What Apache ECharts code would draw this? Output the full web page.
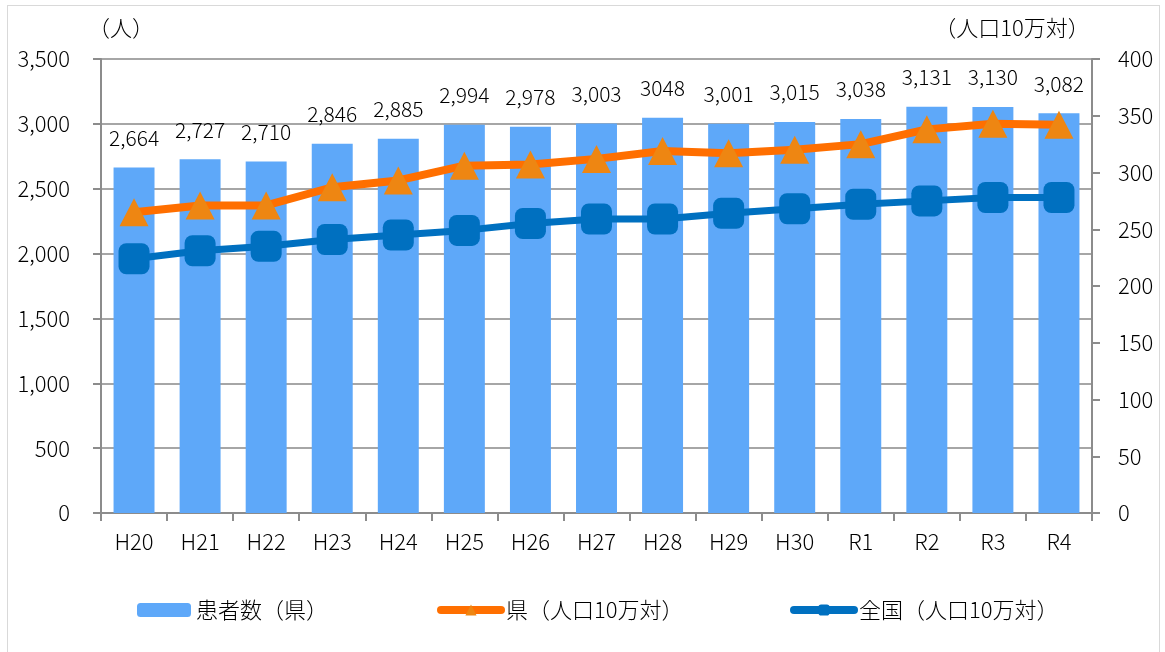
<!DOCTYPE html>
<html><head><meta charset="utf-8">
<script src="https://cdn.jsdelivr.net/npm/echarts@6/dist/echarts.min.js"></script>
<style>html,body{margin:0;padding:0;background:#fff}
#frame{position:absolute;left:7px;top:5px;width:1153px;height:660px;border:1px solid #d9d9d9;box-sizing:border-box}
#c{position:absolute;left:0;top:0;width:1165px;height:652px}</style>
</head><body><div id="frame"></div><div id="c"></div>
<script>
const categories = ['H20','H21','H22','H23','H24','H25','H26','H27','H28','H29','H30','R1','R2','R3','R4'];
const patients = [2664,2727,2710,2846,2885,2994,2978,3003,3048,3001,3015,3038,3131,3130,3082];
const patientLabels = ['2,664','2,727','2,710','2,846','2,885','2,994','2,978','3,003','3048','3,001','3,015','3,038','3,131','3,130','3,082'];
const prefRate = [265,271,271,287,293,306,307,312,319,317,320,325,338,343,342];
const nationalRate = [224,231,235,241,245,249,255,259,259,264,268,272,275,278,278];
const leftTicks = [0,500,1000,1500,2000,2500,3000,3500];
const rightTicks = [0,50,100,150,200,250,300,350,400];

const FONT = '"Noto Sans CJK JP", "Noto Sans", sans-serif';
const W = 300;
const chart = echarts.init(document.getElementById('c'));
chart.setOption({
  animation:false,
  textStyle:{fontFamily:FONT,color:'#000',fontWeight:W},
  grid:{left:101,right:73,top:59,bottom:139},
  legend:[
    {left:132,top:594,itemWidth:54,itemHeight:14,textStyle:{fontSize:22,color:'#000',fontFamily:FONT,fontWeight:W},data:['患者数（県）']},
    {left:432,top:594,itemWidth:60,itemHeight:14,textStyle:{fontSize:22,color:'#000',fontFamily:FONT,fontWeight:W},
     data:[{name:'県（人口10万対）',lineStyle:{width:8,cap:'round'}}]},
    {left:785,top:594,itemWidth:60,itemHeight:14,textStyle:{fontSize:22,color:'#000',fontFamily:FONT,fontWeight:W},
     data:[{name:'全国（人口10万対）',lineStyle:{width:8,cap:'round'}}]}
  ],
  xAxis:{type:'category',data:categories,boundaryGap:true,
    axisLine:{lineStyle:{color:'#8c8c8c',width:2}},
    axisTick:{show:true,alignWithLabel:false,length:8,lineStyle:{color:'#8c8c8c',width:2}},
    axisLabel:{fontSize:22,color:'#000',margin:18,fontFamily:FONT,fontWeight:W}},
  yAxis:[
    {type:'value',min:0,max:3500,interval:500,position:'left',
     name:'（人）',nameLocation:'end',nameGap:20,
     nameTextStyle:{fontSize:22,color:'#000',padding:[0,0,0,40],fontFamily:FONT,fontWeight:W},
     axisLine:{show:true,lineStyle:{color:'#8c8c8c',width:2}},
     axisTick:{show:true,length:8,lineStyle:{color:'#8c8c8c',width:2}},
     axisLabel:{fontSize:22,color:'#000',margin:31,fontFamily:FONT,fontWeight:W,formatter:v=>v.toLocaleString('en-US')},
     splitLine:{show:true,lineStyle:{color:'#a6a6a6',width:2}}},
    {type:'value',min:0,max:400,interval:50,position:'right',
     name:'（人口10万対）',nameLocation:'end',nameGap:20,
     nameTextStyle:{fontSize:22,color:'#000',padding:[0,160,0,0],fontFamily:FONT,fontWeight:W},
     axisLine:{show:true,lineStyle:{color:'#8c8c8c',width:2}},
     axisTick:{show:true,length:8,lineStyle:{color:'#8c8c8c',width:2}},
     axisLabel:{fontSize:22,color:'#000',margin:26,fontFamily:FONT,fontWeight:W},
     splitLine:{show:false}}
  ],
  series:[
    {name:'患者数（県）',type:'bar',yAxisIndex:0,data:patients,barCategoryGap:'38%',
     itemStyle:{color:'#5EA8F9'},
     label:{show:true,position:'top',distance:19,fontSize:21,color:'#000',fontFamily:FONT,fontWeight:W,
       formatter:p=>patientLabels[p.dataIndex]}},
    {name:'県（人口10万対）',type:'line',yAxisIndex:1,data:prefRate,
     symbol:'triangle',symbolSize:[29,28],
     lineStyle:{color:'#FF6F00',width:8},itemStyle:{color:'#EE8612'},z:3},
    {name:'全国（人口10万対）',type:'line',yAxisIndex:1,data:nationalRate,
     symbol:'roundRect',symbolSize:31,
     lineStyle:{color:'#0070C0',width:7},itemStyle:{color:'#0070C0'},z:4}
  ]
});
</script></body></html>
